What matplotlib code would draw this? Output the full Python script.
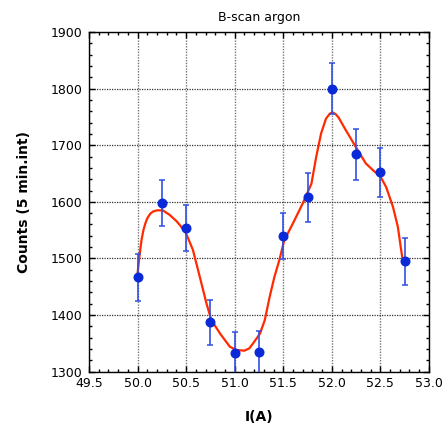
import matplotlib
matplotlib.use("Agg")
import matplotlib.pyplot as plt
from matplotlib.ticker import MultipleLocator, FormatStrFormatter

plt.rcParams['font.family'] = ['DejaVu Sans']

# measured data
current = [50.0, 50.25, 50.5, 50.75, 51.0, 51.25, 51.5, 51.75, 52.0, 52.25, 52.5, 52.75]
counts = [1467, 1598, 1554, 1387, 1332, 1334, 1540, 1608, 1800, 1684, 1652, 1495]
errors = [41.5, 41.5, 40.5, 40, 38, 38, 41, 43.5, 45, 44.5, 44, 41.5]

# fitted curve
fit_x = [50.00, 50.02, 50.04, 50.06, 50.08, 50.10, 50.13, 50.16, 50.20, 50.26,
         50.33, 50.40, 50.44, 50.50, 50.57,
         50.64, 50.71, 50.76, 50.85, 50.95, 51.02, 51.10, 51.15, 51.19, 51.26,
         51.31, 51.36, 51.41, 51.46, 51.51, 51.60, 51.70, 51.79, 51.84, 51.89,
         51.94, 51.98, 52.01, 52.04, 52.07, 52.14, 52.23, 52.35, 52.43, 52.50,
         52.56, 52.63, 52.68, 52.71, 52.73]
fit_y = [1474, 1505, 1532, 1550, 1562, 1571, 1579, 1583, 1585, 1585,
         1577, 1566, 1558, 1544, 1515,
         1468, 1420, 1391, 1367, 1344, 1338, 1337, 1341, 1350, 1367,
         1391, 1432, 1468, 1497, 1532, 1562, 1597, 1632, 1680, 1721,
         1747, 1756, 1758, 1755, 1749, 1728, 1702, 1668, 1655, 1645,
         1626, 1591, 1556, 1520, 1497]

fig = plt.figure(figsize=(4.44, 4.34), dpi=100)
ax = fig.add_axes([0.2005, 0.1438, 0.7655, 0.7822])

ax.plot(fit_x, fit_y, color='#ff2a00', lw=1.6, zorder=3, solid_capstyle='round', solid_joinstyle='round')
ax.errorbar(current, counts, yerr=errors, fmt='o', color='#0a2ad8', ms=6.2,
            ecolor='#3050e0', elinewidth=1.2, capsize=2.5, capthick=1.1, zorder=4)

ax.set_xlim(49.5, 53.0)
ax.set_ylim(1300, 1900)
ax.xaxis.set_major_locator(MultipleLocator(0.5))
ax.xaxis.set_minor_locator(MultipleLocator(0.1))
ax.yaxis.set_major_locator(MultipleLocator(100))
ax.yaxis.set_minor_locator(MultipleLocator(20))
ax.xaxis.set_major_formatter(FormatStrFormatter('%.1f'))

ax.tick_params(which='both', direction='in', top=True, right=True, labelsize=9, colors='black')
ax.tick_params(which='major', length=4, width=1)
ax.tick_params(which='minor', length=2.5, width=1)
ax.tick_params(axis='x', pad=4)
ax.tick_params(axis='y', pad=5)

ax.xaxis.grid(True, which='major', color='#777777', linestyle=(0, (1, 1)), linewidth=1.0)
ax.yaxis.grid(True, which='major', color='#333333', linestyle=(0, (1, 1)), linewidth=0.9)
for s in ax.spines.values():
    s.set_linewidth(1)

ax.set_title('B-scan argon', fontsize=9, pad=8)
ax.set_xlabel('I(A)', fontsize=10, fontweight='bold', labelpad=14)
ax.set_ylabel('Counts (5 min.int)', fontsize=10, fontweight='bold', labelpad=14)

fig.savefig('out.png', dpi=100)
